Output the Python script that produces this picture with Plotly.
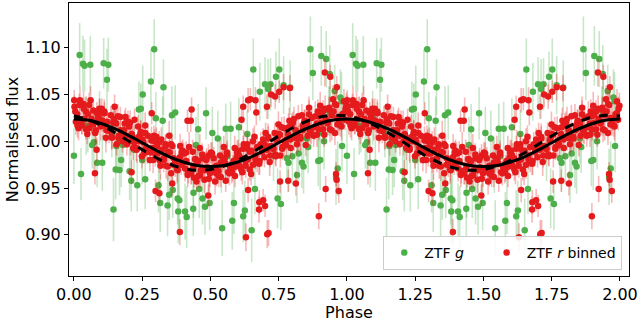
import plotly.graph_objects as go

# ---------------- ZTF g (one phase cycle, shown twice) ----------------
g_phase = [
    0.021, 0.033, 0.039, 0.060, 0.109, 0.126, 0.121, 0.000,
    0.026, 0.145, 0.085, 0.104, 0.067, 0.073, 0.045, 0.051,
    0.139, 0.155, 0.161, 0.153, 0.167, 0.179, 0.173, 0.204,
    0.210, 0.232, 0.220, 0.238, 0.094, 0.294, 0.282, 0.252,
    0.328, 0.245, 0.300, 0.325, 0.359, 0.371, 0.455, 0.447,
    0.484, 0.261, 0.310, 0.316, 0.343, 0.349, 0.362, 0.380,
    0.386, 0.382, 0.407, 0.413, 0.437, 0.438, 0.459, 0.471,
    0.480, 0.250, 0.657, 0.507, 0.527, 0.556, 0.574, 0.604,
    0.635, 0.681, 0.700, 0.711, 0.720, 0.540, 0.562, 0.586,
    0.580, 0.543, 0.497, 0.626, 0.620, 0.651, 0.663, 0.866,
    0.906, 0.924, 0.875, 0.937, 0.955, 0.976, 0.752, 0.740,
    0.768, 0.792, 0.933, 0.896, 0.982, 0.902, 0.853, 0.823,
    0.800, 0.780, 0.786, 0.835, 0.841, 0.817, 0.746, 0.758,
    0.960, 0.731, 0.980, 0.938, 0.966, 0.858, 0.916, 0.895,
]
g_flux = [
    1.0925, 1.083, 1.081, 1.082, 1.0835, 1.082, 1.066, 0.9845,
    0.965, 0.927, 0.977, 0.977, 0.996, 0.999, 1.0166, 1.015,
    1.0088, 0.995, 0.998, 0.970, 0.9695, 0.996, 0.980, 0.968,
    0.958, 0.953, 0.991, 1.034, 1.025, 1.0986, 1.064, 1.050,
    1.058, 1.035, 1.0248, 1.022, 1.028, 1.031, 1.013, 0.996,
    1.030, 0.9595, 0.953, 0.934, 0.9314, 0.943, 0.948, 0.939,
    0.937, 0.925, 0.925, 0.919, 0.928, 0.945, 0.949, 0.939,
    0.930, 0.980, 1.077, 1.009, 1.003, 1.0134, 1.0134, 1.015,
    1.008, 1.053, 1.061, 1.056, 1.061, 0.975, 0.984, 0.934,
    0.915, 0.907, 0.934, 0.926, 0.920, 0.905, 0.949, 1.0986,
    1.0914, 1.088, 1.073, 1.072, 1.054, 1.047, 1.077, 1.069,
    1.060, 1.0576, 1.033, 1.009, 0.995, 0.980, 1.003, 0.987,
    0.984, 0.982, 0.977, 0.977, 0.973, 0.964, 0.939, 0.933,
    0.962, 0.9845, 1.043, 1.032, 0.971, 0.994, 1.000, 0.979,
]
g_err = [
    0.034, 0.030, 0.028, 0.031, 0.027, 0.029, 0.033, 0.030,
    0.028, 0.034, 0.026, 0.030, 0.025, 0.029, 0.031, 0.027,
    0.026, 0.030, 0.028, 0.032, 0.027, 0.025, 0.029, 0.031,
    0.033, 0.028, 0.026, 0.030, 0.029, 0.032, 0.035, 0.031,
    0.030, 0.027, 0.028, 0.026, 0.031, 0.029, 0.027, 0.030,
    0.028, 0.032, 0.029, 0.031, 0.033, 0.027, 0.030, 0.028,
    0.032, 0.034, 0.030, 0.033, 0.029, 0.027, 0.031, 0.028,
    0.030, 0.026, 0.033, 0.028, 0.030, 0.027, 0.029, 0.031,
    0.026, 0.031, 0.029, 0.032, 0.028, 0.030, 0.027, 0.033,
    0.031, 0.030, 0.029, 0.032, 0.028, 0.034, 0.027, 0.035,
    0.032, 0.030, 0.029, 0.031, 0.028, 0.030, 0.033, 0.027,
    0.031, 0.029, 0.026, 0.030, 0.028, 0.032, 0.027, 0.029,
    0.030, 0.028, 0.031, 0.027, 0.029, 0.030, 0.032, 0.028,
    0.030, 0.027, 0.031, 0.026, 0.029, 0.028, 0.030, 0.027,
]

# ---------------- ZTF r binned (one phase cycle) ----------------
r_phase = [
    0.002, 0.007, 0.012, 0.017, 0.022, 0.029, 0.035, 0.038, 0.044, 0.049,
    0.051, 0.056, 0.061, 0.065, 0.071, 0.078, 0.084, 0.089, 0.093, 0.098,
    0.102, 0.107, 0.112, 0.117, 0.122, 0.129, 0.135, 0.138, 0.144, 0.149,
    0.151, 0.156, 0.161, 0.165, 0.171, 0.178, 0.184, 0.189, 0.193, 0.198,
    0.202, 0.207, 0.212, 0.217, 0.222, 0.229, 0.235, 0.238, 0.244, 0.249,
    0.251, 0.256, 0.261, 0.265, 0.271, 0.278, 0.284, 0.289, 0.293, 0.298,
    0.302, 0.307, 0.312, 0.317, 0.322, 0.329, 0.335, 0.338, 0.344, 0.349,
    0.351, 0.356, 0.361, 0.365, 0.371, 0.378, 0.384, 0.389, 0.393, 0.398,
    0.402, 0.407, 0.412, 0.417, 0.422, 0.429, 0.435, 0.438, 0.444, 0.449,
    0.451, 0.456, 0.461, 0.465, 0.471, 0.478, 0.484, 0.489, 0.493, 0.498,
    0.502, 0.507, 0.512, 0.517, 0.522, 0.529, 0.535, 0.538, 0.544, 0.549,
    0.551, 0.556, 0.561, 0.565, 0.571, 0.578, 0.584, 0.589, 0.593, 0.598,
    0.602, 0.607, 0.612, 0.617, 0.622, 0.629, 0.635, 0.638, 0.644, 0.649,
    0.651, 0.656, 0.661, 0.665, 0.671, 0.678, 0.684, 0.689, 0.693, 0.698,
    0.702, 0.707, 0.712, 0.717, 0.722, 0.729, 0.735, 0.738, 0.744, 0.749,
    0.751, 0.756, 0.761, 0.765, 0.771, 0.778, 0.784, 0.789, 0.793, 0.798,
    0.802, 0.807, 0.812, 0.817, 0.822, 0.829, 0.835, 0.838, 0.844, 0.849,
    0.851, 0.856, 0.861, 0.865, 0.871, 0.878, 0.884, 0.889, 0.893, 0.898,
    0.902, 0.907, 0.912, 0.917, 0.922, 0.929, 0.935, 0.938, 0.944, 0.949,
    0.951, 0.956, 0.961, 0.965, 0.971, 0.978, 0.984, 0.989, 0.993, 0.998,
]
r_flux = [
    1.037, 1.021, 1.029, 1.014, 1.044, 1.017, 1.040, 1.024, 1.032, 1.008,
    1.029, 1.014, 1.044, 1.020, 1.033, 1.009, 1.030, 1.022, 1.035, 1.016,
    1.035, 1.017, 1.030, 1.004, 1.021, 1.011, 1.028, 1.005, 1.020, 1.037,
    1.020, 0.997, 1.027, 1.006, 1.012, 1.000, 1.012, 1.026, 1.006, 1.021,
    1.016, 1.000, 1.008, 0.993, 1.023, 0.993, 1.016, 1.000, 1.008, 0.984,
    1.002, 0.987, 1.017, 0.993, 1.006, 0.980, 1.001, 0.993, 1.006, 0.987,
    1.005, 0.987, 0.999, 0.974, 0.991, 0.980, 0.997, 0.974, 0.989, 1.006,
    0.988, 0.966, 0.995, 0.975, 0.980, 0.970, 0.981, 0.995, 0.975, 0.990,
    0.987, 0.971, 0.979, 0.964, 0.994, 0.966, 0.989, 0.973, 0.981, 0.957,
    0.978, 0.963, 0.993, 0.969, 0.982, 0.959, 0.980, 0.972, 0.985, 0.966,
    0.988, 0.970, 0.982, 0.957, 0.974, 0.968, 0.985, 0.962, 0.977, 0.994,
    0.981, 0.958, 0.988, 0.967, 0.973, 0.967, 0.979, 0.993, 0.973, 0.988,
    0.990, 0.974, 0.982, 0.967, 0.997, 0.974, 0.997, 0.981, 0.989, 0.965,
    0.990, 0.975, 1.005, 0.981, 0.994, 0.976, 0.997, 0.989, 1.002, 0.983,
    1.009, 0.991, 1.003, 0.978, 0.995, 0.992, 1.009, 0.986, 1.001, 1.018,
    1.008, 0.985, 1.015, 0.994, 1.000, 0.996, 1.008, 1.022, 1.002, 1.017,
    1.020, 1.004, 1.012, 0.997, 1.027, 1.005, 1.028, 1.012, 1.020, 0.996,
    1.021, 1.006, 1.036, 1.012, 1.025, 1.006, 1.027, 1.019, 1.032, 1.013,
    1.038, 1.020, 1.032, 1.007, 1.024, 1.019, 1.036, 1.013, 1.028, 1.045,
    1.032, 1.009, 1.039, 1.018, 1.024, 1.017, 1.029, 1.043, 1.023, 1.038,
]
r_err = [
    0.012, 0.014, 0.011, 0.013, 0.015, 0.010, 0.013, 0.012, 0.016, 0.011,
    0.013, 0.011, 0.015, 0.012, 0.010, 0.014, 0.012, 0.013, 0.011, 0.015,
    0.011, 0.013, 0.012, 0.016, 0.012, 0.013, 0.010, 0.014, 0.012, 0.013,
    0.014, 0.012, 0.013, 0.011, 0.015, 0.012, 0.014, 0.010, 0.013, 0.012,
    0.012, 0.015, 0.011, 0.013, 0.012, 0.014, 0.012, 0.011, 0.015, 0.013,
    0.013, 0.011, 0.014, 0.012, 0.013, 0.012, 0.015, 0.013, 0.011, 0.014,
    0.010, 0.013, 0.012, 0.015, 0.012, 0.013, 0.011, 0.014, 0.012, 0.016,
    0.014, 0.012, 0.013, 0.010, 0.013, 0.015, 0.012, 0.013, 0.011, 0.012,
    0.012, 0.014, 0.011, 0.013, 0.016, 0.012, 0.013, 0.012, 0.014, 0.011,
    0.013, 0.012, 0.015, 0.011, 0.012, 0.014, 0.010, 0.013, 0.012, 0.015,
    0.011, 0.013, 0.012, 0.014, 0.012, 0.013, 0.015, 0.011, 0.013, 0.012,
    0.015, 0.012, 0.013, 0.012, 0.011, 0.012, 0.014, 0.013, 0.010, 0.013,
    0.012, 0.011, 0.014, 0.013, 0.015, 0.013, 0.012, 0.011, 0.014, 0.012,
    0.013, 0.015, 0.012, 0.011, 0.013, 0.012, 0.013, 0.016, 0.012, 0.011,
    0.011, 0.012, 0.013, 0.015, 0.012, 0.014, 0.011, 0.012, 0.013, 0.014,
    0.014, 0.013, 0.011, 0.012, 0.016, 0.012, 0.013, 0.014, 0.011, 0.013,
    0.012, 0.014, 0.013, 0.011, 0.012, 0.015, 0.012, 0.013, 0.014, 0.012,
    0.013, 0.011, 0.012, 0.014, 0.013, 0.012, 0.016, 0.011, 0.013, 0.012,
    0.015, 0.013, 0.012, 0.013, 0.011, 0.013, 0.012, 0.014, 0.012, 0.015,
    0.012, 0.013, 0.014, 0.011, 0.013, 0.012, 0.015, 0.013, 0.011, 0.014,
]
# additional r bins filling the dense band
r2_phase = [
    0.005, 0.013, 0.020, 0.029, 0.036, 0.044, 0.056, 0.065, 0.071, 0.080, 0.088, 0.095,
    0.104, 0.111, 0.119, 0.131, 0.140, 0.146, 0.155, 0.163, 0.170, 0.179, 0.186, 0.194,
    0.206, 0.215, 0.221, 0.230, 0.238, 0.245, 0.254, 0.261, 0.269, 0.281, 0.290, 0.296,
    0.305, 0.313, 0.320, 0.329, 0.336, 0.344, 0.356, 0.365, 0.371, 0.380, 0.388, 0.395,
    0.404, 0.411, 0.419, 0.431, 0.440, 0.446, 0.455, 0.463, 0.470, 0.479, 0.486, 0.494,
    0.506, 0.515, 0.521, 0.530, 0.538, 0.545, 0.554, 0.561, 0.569, 0.581, 0.590, 0.596,
    0.605, 0.613, 0.620, 0.629, 0.636, 0.644, 0.656, 0.665, 0.671, 0.680, 0.688, 0.695,
    0.704, 0.711, 0.719, 0.731, 0.740, 0.746, 0.755, 0.763, 0.770, 0.779, 0.786, 0.794,
    0.806, 0.815, 0.821, 0.830, 0.838, 0.845, 0.854, 0.861, 0.869, 0.881, 0.890, 0.896,
    0.905, 0.913, 0.920, 0.929, 0.936, 0.944, 0.956, 0.965, 0.971, 0.980, 0.988, 0.995,
]
r2_flux = [
    1.032, 1.017, 1.039, 1.022, 1.035, 1.013, 1.039, 1.024, 1.018, 1.012, 1.026, 1.031,
    1.022, 1.032, 1.012, 1.012, 1.004, 1.024, 1.019, 1.004, 1.026, 1.006, 1.019, 0.997,
    1.020, 1.005, 0.999, 0.991, 1.005, 1.010, 0.999, 1.009, 0.989, 0.988, 0.980, 1.000,
    0.995, 0.980, 1.002, 0.982, 0.995, 0.973, 0.997, 0.982, 0.976, 0.969, 0.983, 0.988,
    0.978, 0.988, 0.968, 0.969, 0.961, 0.981, 0.979, 0.964, 0.986, 0.969, 0.982, 0.960,
    0.987, 0.972, 0.966, 0.963, 0.977, 0.982, 0.976, 0.986, 0.966, 0.971, 0.963, 0.983,
    0.985, 0.970, 0.992, 0.979, 0.992, 0.970, 1.000, 0.985, 0.979, 0.979, 0.993, 0.998,
    0.995, 1.005, 0.985, 0.992, 0.984, 1.004, 1.007, 0.992, 1.014, 1.002, 1.015, 0.993,
    1.024, 1.009, 1.003, 1.003, 1.017, 1.022, 1.019, 1.029, 1.009, 1.015, 1.007, 1.027,
    1.028, 1.013, 1.035, 1.021, 1.034, 1.012, 1.040, 1.025, 1.019, 1.016, 1.030, 1.035,
]
r2_err = [
    0.011, 0.013, 0.012, 0.014, 0.012, 0.011, 0.013, 0.015, 0.012, 0.013, 0.011, 0.014,
    0.012, 0.013, 0.014, 0.011, 0.012, 0.013, 0.015, 0.012, 0.011, 0.013, 0.014, 0.012,
    0.013, 0.012, 0.011, 0.014, 0.013, 0.012, 0.015, 0.011, 0.013, 0.012, 0.014, 0.013,
    0.012, 0.014, 0.013, 0.011, 0.012, 0.015, 0.013, 0.012, 0.014, 0.011, 0.013, 0.012,
    0.014, 0.012, 0.013, 0.015, 0.011, 0.012, 0.013, 0.014, 0.012, 0.013, 0.011, 0.014,
    0.012, 0.013, 0.014, 0.012, 0.011, 0.013, 0.015, 0.012, 0.013, 0.014, 0.012, 0.011,
    0.013, 0.012, 0.014, 0.011, 0.013, 0.012, 0.014, 0.013, 0.012, 0.015, 0.011, 0.013,
    0.012, 0.014, 0.013, 0.012, 0.011, 0.013, 0.014, 0.012, 0.013, 0.011, 0.015, 0.012,
    0.013, 0.012, 0.014, 0.013, 0.011, 0.012, 0.013, 0.015, 0.012, 0.014, 0.013, 0.011,
    0.012, 0.013, 0.014, 0.012, 0.013, 0.011, 0.014, 0.012, 0.013, 0.015, 0.012, 0.013,
]
# outlying r bins
ro_phase = [
    0.388, 0.299, 0.313, 0.077, 0.083, 0.001, 0.431, 0.416,
    0.285, 0.211, 0.897, 0.708, 0.630, 0.679, 0.693, 0.678,
    0.785, 0.813, 0.755, 0.922, 0.960, 0.962, 0.638, 0.620,
    0.665, 0.722, 0.752, 0.791, 0.919, 0.939, 0.963, 0.768,
    0.737, 0.646, 0.707, 0.700, 0.713, 0.970, 0.614, 0.360,
    0.638, 0.492, 0.668, 0.428,
]
ro_flux = [
    0.903, 0.947, 0.9445, 0.966, 0.991, 1.044, 1.034, 1.022,
    1.030, 0.967, 0.920, 0.9007, 0.8975, 0.935, 0.937, 0.927,
    0.958, 0.955, 0.957, 0.949, 0.965, 0.959, 1.044, 1.037,
    1.044, 1.050, 1.053, 1.057, 1.0736, 1.069, 1.058, 1.058,
    1.048, 1.045, 1.037, 0.931, 0.902, 0.947, 1.023, 0.955,
    0.948, 0.942, 1.031, 1.022,
]
ro_err = [
    0.014, 0.012, 0.013, 0.012, 0.013, 0.011, 0.013, 0.012,
    0.012, 0.013, 0.014, 0.015, 0.015, 0.013, 0.012, 0.014,
    0.012, 0.013, 0.012, 0.014, 0.013, 0.012, 0.013, 0.012,
    0.014, 0.013, 0.012, 0.014, 0.015, 0.013, 0.012, 0.014,
    0.013, 0.012, 0.013, 0.012, 0.014, 0.013, 0.012, 0.013,
    0.013, 0.012, 0.014, 0.012,
]

# ---------------- model curves (one cycle) ----------------
model_phase = [0.00, 0.05, 0.10, 0.15, 0.20, 0.25, 0.30, 0.35, 0.40, 0.45, 0.50,
               0.55, 0.60, 0.65, 0.70, 0.75, 0.80, 0.85, 0.90, 0.95]
model_solid = [1.0240, 1.0228, 1.0191, 1.0135, 1.0064, 0.9985, 0.9906, 0.9835, 0.9779, 0.9742, 0.9730,
               0.9742, 0.9779, 0.9835, 0.9906, 0.9985, 1.0064, 1.0135, 1.0191, 1.0228]
model_dashed = [1.0271, 1.0234, 1.0173, 1.0094, 1.0004, 0.9912, 0.9827, 0.9758, 0.9711, 0.9691, 0.9699,
                0.9736, 0.9797, 0.9876, 0.9966, 1.0058, 1.0143, 1.0212, 1.0259, 1.0279]

x_ticks = [0.0, 0.25, 0.5, 0.75, 1.0, 1.25, 1.5, 1.75, 2.0]
x_ticktext = ["0.00", "0.25", "0.50", "0.75", "1.00", "1.25", "1.50", "1.75", "2.00"]
y_ticks = [0.90, 0.95, 1.00, 1.05, 1.10]
y_ticktext = ["0.90", "0.95", "1.00", "1.05", "1.10"]


def two_cycles(ph):
    return list(ph) + [p + 1.0 for p in ph]


GREEN = "#4daf4a"
RED = "#e41a1c"
FONT = "DejaVu Sans"

gx = two_cycles(g_phase)
gy = g_flux + g_flux
ge = g_err + g_err

rp = r_phase + r2_phase + ro_phase
rf = r_flux + r2_flux + ro_flux
re_ = r_err + r2_err + ro_err
rx = two_cycles(rp)
ry = rf + rf
rerr = re_ + re_

mx = two_cycles(model_phase) + [2.0]
ms = model_solid + model_solid + [model_solid[0]]
md = model_dashed + model_dashed + [model_dashed[0]]

fig = go.Figure()
fig.add_trace(go.Scatter(
    x=gx, y=gy, mode="markers", name="ZTF <i>g</i>&nbsp;&nbsp;&nbsp;&nbsp;",
    marker=dict(color=GREEN, size=6.5),
    error_y=dict(type="data", array=ge, visible=True, color="rgba(77,175,74,0.3)",
                 thickness=1.6, width=0),
))
fig.add_trace(go.Scatter(
    x=rx, y=ry, mode="markers", name="ZTF <i>r</i> binned",
    marker=dict(color=RED, size=6.5),
    error_y=dict(type="data", array=rerr, visible=True, color="rgba(228,26,28,0.3)",
                 thickness=1.6, width=0),
))
fig.add_trace(go.Scatter(
    x=mx, y=ms, mode="lines", showlegend=False,
    line=dict(color="black", width=3, shape="spline", smoothing=1.0),
))
fig.add_trace(go.Scatter(
    x=mx, y=md, mode="lines", showlegend=False,
    line=dict(color="black", width=3, dash="dash", shape="spline", smoothing=1.0),
))

axis_common = dict(
    showline=True, linecolor="black", linewidth=1, mirror=True,
    ticks="outside", ticklen=4, tickwidth=1, tickcolor="black",
    showgrid=False, zeroline=False,
    tickfont=dict(family=FONT, size=16, color="black"),
)
fig.update_xaxes(range=[-0.018, 2.033], tickvals=x_ticks, ticktext=x_ticktext,
                 title=dict(text="Phase", font=dict(family=FONT, size=16, color="black"), standoff=1),
                 **axis_common)
fig.update_yaxes(range=[0.856, 1.148], tickvals=y_ticks, ticktext=y_ticktext,
                 title=dict(text="Normalised flux", font=dict(family=FONT, size=16, color="black"), standoff=2),
                 **axis_common)

fig.update_layout(
    width=643, height=322,
    margin=dict(l=69, r=14, t=3, b=46, autoexpand=False),
    paper_bgcolor="white", plot_bgcolor="white",
    font=dict(family=FONT, size=16, color="black"),
    legend=dict(
        orientation="h", x=0.988, y=0.022, xanchor="right", yanchor="bottom",
        bgcolor="rgba(255,255,255,0.85)", bordercolor="#cccccc", borderwidth=1,
        font=dict(family=FONT, size=14, color="black"),
        itemwidth=30,
    ),
)

fig.write_html("out.html", config={"displayModeBar": False},
               post_script="document.body.style.margin='0px';")
